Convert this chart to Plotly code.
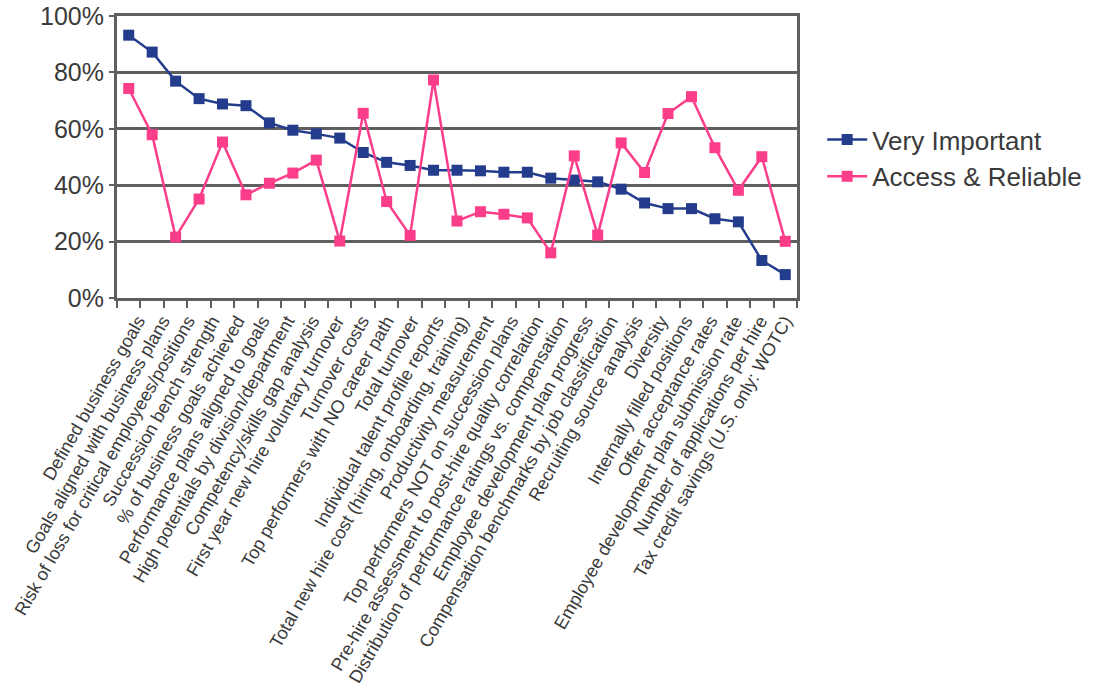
import plotly.graph_objects as go

# Talent-metric survey: share of respondents rating each measure
measure_no = list(range(1, 30))

very_important = [93.2, 87.2, 76.9, 70.7, 68.8, 68.2, 62.1, 59.5, 58.2, 56.7,
                  51.6, 48.1, 47.0, 45.3, 45.3, 45.1, 44.6, 44.6, 42.5, 41.8,
                  41.2, 38.6, 33.7, 31.7, 31.7, 28.1, 27.0, 13.3, 8.3]

access_reliable = [74.3, 57.9, 21.6, 35.1, 55.3, 36.6, 40.7, 44.3, 48.9, 20.2,
                   65.5, 34.2, 22.2, 77.3, 27.3, 30.6, 29.7, 28.4, 16.0, 50.4,
                   22.3, 55.0, 44.5, 65.4, 71.4, 53.3, 38.2, 50.1, 20.1]

measure_labels = [
    "Defined business goals",
    "Goals aligned with business plans",
    "Risk of loss for critical employees/positions",
    "Succession bench strength",
    "% of business goals achieved",
    "Performance plans aligned to goals",
    "High potentials by division/department",
    "Competency/skills gap analysis",
    "First year new hire voluntary turnover",
    "Turnover costs",
    "Top performers with NO career path",
    "Total turnover",
    "Individual talent profile reports",
    "Total new hire cost (hiring, onboarding, training)",
    "Productivity measurement",
    "Top performers NOT on succession plans",
    "Pre-hire assessment to post-hire quality correlation",
    "Distribution of performance ratings vs. compensation",
    "Employee development plan progress",
    "Compensation benchmarks by job classification",
    "Recruiting source analysis",
    "Diversity",
    "Internally filled positions",
    "Offer acceptance rates",
    "Employee development plan submission rate",
    "Number of applications per hire",
    "Tax credit savings (U.S. only: WOTC)",
]

BLUE = "#243c8c"
PINK = "#fb3d8a"
GRID = "#5f5f5f"
TEXT = "#3a3a3a"
FONT = "Liberation Sans, Arial, sans-serif"

fig = go.Figure()

fig.add_trace(go.Scatter(
    x=measure_no, y=[v / 100 for v in very_important],
    name="Very Important", mode="lines+markers",
    line=dict(color=BLUE, width=2.5),
    marker=dict(symbol="square", size=11, color=BLUE),
))
fig.add_trace(go.Scatter(
    x=measure_no, y=[v / 100 for v in access_reliable],
    name="Access & Reliable", mode="lines+markers",
    line=dict(color=PINK, width=2.5),
    marker=dict(symbol="square", size=11, color=PINK),
))

# invisible trace carrying the rotated category names on an overlaid axis
fig.add_trace(go.Scatter(
    x=measure_labels, y=[None] * len(measure_labels),
    xaxis="x2", showlegend=False, hoverinfo="skip",
))

n = len(measure_no)
boundaries = [i + 0.5 for i in range(n + 1)]

fig.update_layout(
    width=1100, height=693,
    margin=dict(l=117, r=303, t=16, b=395, pad=0, autoexpand=False),
    paper_bgcolor="white", plot_bgcolor="white",
    font=dict(family=FONT, color=TEXT),
    xaxis=dict(
        range=[0.5, n + 0.5], tickvals=boundaries, showticklabels=False,
        ticks="outside", ticklen=7, tickwidth=2, tickcolor=GRID,
        showgrid=False, zeroline=False, automargin=False,
        showline=True, mirror=True, linecolor=GRID, linewidth=3,
    ),
    xaxis2=dict(
        overlaying="x", anchor="y", side="bottom", type="category",
        categoryorder="array", categoryarray=measure_labels,
        range=[-0.84, len(measure_labels) - 0.52],
        tickangle=-60, ticks="", showline=False, showgrid=False,
        zeroline=False, ticklabelstandoff=8, automargin=False,
        tickfont=dict(size=18, color=TEXT, family=FONT),
    ),
    yaxis=dict(
        range=[0, 1], dtick=0.2, tickformat=".0%", automargin=False,
        tickfont=dict(size=25, color=TEXT, family=FONT),
        ticks="outside", ticklen=5, tickwidth=2, tickcolor=GRID,
        showgrid=True, gridcolor=GRID, gridwidth=2.5,
        zeroline=False, showline=True, mirror=True,
        linecolor=GRID, linewidth=3,
    ),
    legend=dict(
        x=1.037, xanchor="left", y=0.645, yanchor="top",
        font=dict(size=26, color=TEXT, family=FONT),
        bgcolor="rgba(0,0,0,0)", itemwidth=40, tracegroupgap=4,
    ),
)

fig.write_html("out.html")
